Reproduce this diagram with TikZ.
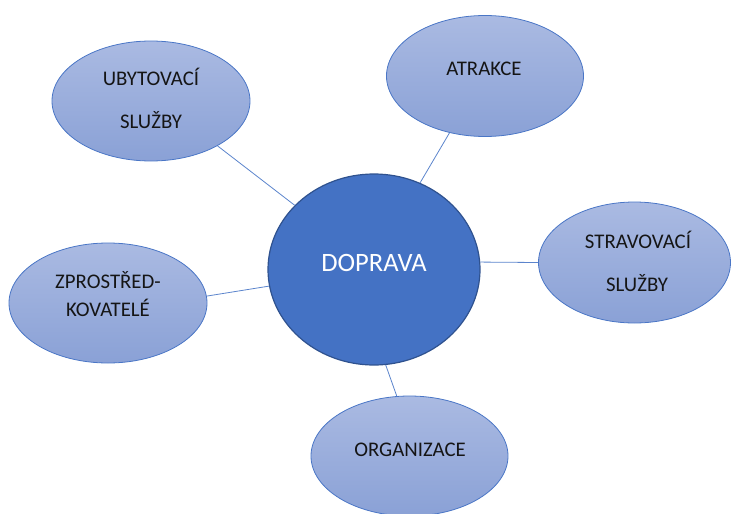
\documentclass[tikz,border=0pt]{standalone}
\usepackage{fontspec}
\setmainfont{Carlito}
\usetikzlibrary{shapes.geometric}
\definecolor{bluetop}{HTML}{AABAE2}
\definecolor{bluebot}{HTML}{8AA1D6}
\definecolor{blueedge}{HTML}{4A76C6}
\definecolor{centerfill}{HTML}{4472C4}
\definecolor{centeredge}{HTML}{2F528F}
\definecolor{linkcol}{HTML}{5B84CC}
\definecolor{txt}{HTML}{151515}
\tikzset{
  outer/.style={ellipse, draw=blueedge, line width=0.8pt, top color=bluetop, bottom color=bluebot, inner sep=0pt, minimum width=198pt, minimum height=120pt},
  core/.style={ellipse, draw=centeredge, line width=1.2pt, fill=centerfill, inner sep=0pt, minimum width=212pt, minimum height=191pt},
  lbl/.style={anchor=base, inner sep=0pt, text=txt, font=\fontsize{20.8}{24}\selectfont},
  corelbl/.style={anchor=base, inner sep=0pt, text=white, font=\fontsize{26.5}{30}\selectfont},
  link/.style={draw=linkcol, line width=0.8pt}
}
\begin{document}
\begin{tikzpicture}[x=1pt,y=-1pt]
\useasboundingbox (0,0) rectangle (731,514);
\node[core] (c) at (374,269.5) {};
\node[outer] (uby) at (151,101) {};
\node[outer, minimum width=197pt, minimum height=121pt] (atr) at (485,76) {};
\node[outer, minimum width=192pt, minimum height=121pt] (str) at (634.5,262.5) {};
\node[outer] (zpr) at (108,303) {};
\node[outer, minimum width=197pt] (org) at (409.5,456) {};

\draw[link] (c.141) -- (uby.-34);
\draw[link] (c.62) -- (atr.-122);
\draw[link] (c.4) -- (str.180);
\draw[link] (c.189) -- (zpr.4);
\draw[link] (c.-83) -- (org.102);

\node[corelbl] (tc) at (374,271) {DOPRAVA};
\node[lbl] (tuby1) at (151,85) {UBYTOVACÍ};
\node[lbl] (tuby2) at (151,128) {SLUŽBY};
\node[lbl] (tatr) at (484,75) {ATRAKCE};
\node[lbl] (tstr1) at (638,248) {STRAVOVACÍ};
\node[lbl] (tstr2) at (637,291) {SLUŽBY};
\node[lbl] (tzpr1) at (108,288) {ZPROSTŘED-};
\node[lbl] (tzpr2) at (108,316) {KOVATELÉ};
\node[lbl] (torg) at (410,456) {ORGANIZACE};
\end{tikzpicture}
\end{document}
